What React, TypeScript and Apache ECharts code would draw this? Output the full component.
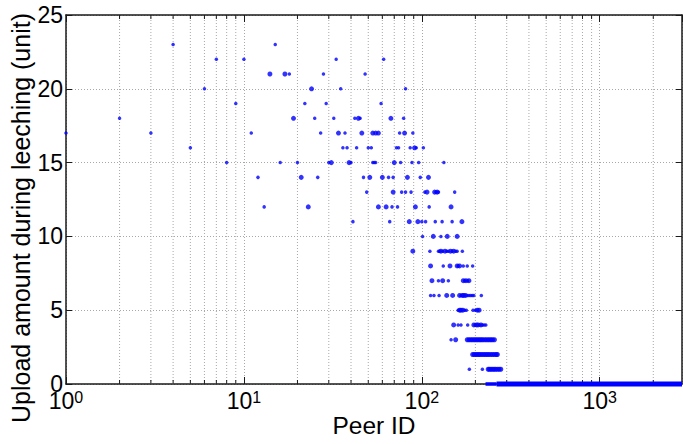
import React, { useEffect, useRef } from "react";
import * as echarts from "echarts";

// ---- data ----
const xMin = 1;
const xMax = 2900;
const yMin = 0;
const yMax = 25;
const yInterval = 5;
const minorXTicks = [2, 3, 4, 5, 6, 7, 8, 9, 20, 30, 40, 50, 60, 70, 80, 90, 200, 300, 400, 500, 600, 700, 800, 900, 2000];
const yTitle = "Upload amount during leeching (unit)";
const xTitle = "Peer ID";

// [peer id, upload amount] – small markers
const smallDots: [number, number][] = [
  [4, 23], [15, 23],
  [7, 22], [10, 22], [33, 22], [61, 22],
  [18, 21], [28, 21], [48, 21],
  [6, 20], [35, 20], [81, 20],
  [9, 19], [22, 19], [29, 19], [59, 19],
  [2, 18], [25, 18], [32, 18], [42, 18], [45, 18], [79, 18],
  [1, 17], [3, 17], [11, 17], [27, 17], [37, 17], [75, 17], [89, 17],
  [5, 16], [36, 16], [38, 16], [43, 16], [50, 16], [52, 16], [72, 16], [74, 16], [86, 16], [93, 16], [102, 16],
  [8, 15], [16, 15], [20, 15], [30, 15], [40, 15], [53, 15], [54, 15], [55, 15], [76, 15], [88, 15], [96, 15], [133, 15],
  [12, 14], [26, 14], [47, 14], [65, 14], [69, 14], [98, 14],
  [49, 13], [77, 13], [81, 13], [87, 13], [104, 13], [120, 13], [124, 13], [153, 13],
  [13, 12], [68, 12], [73, 12], [110, 12],
  [41, 11], [66, 11], [100, 11], [105, 11], [119, 11], [130, 11], [148, 11],
  [101, 10], [128, 10],
  [111, 9], [124, 9], [126, 9], [131, 9], [138, 9], [141, 9], [148, 9], [155, 9], [158, 9], [169, 9],
  [132, 8], [160, 8], [171, 8], [180, 8], [193, 8],
  [124, 7], [141, 7], [174, 7], [181, 7],
  [112, 6], [117, 6], [125, 6], [166, 6], [180, 6], [184, 6], [188, 6], [192, 6], [196, 6], [216, 6],
  [160, 5], [174, 5], [178, 5], [194, 5], [200, 5],
  [160, 4], [166, 4], [181, 4], [199, 4], [211, 4], [219, 4], [224, 4], [229, 4],
  [146, 3],
  [185, 1], [219, 1],
];

// [peer id, upload amount] – large markers
const bigDots: [number, number][] = [
  [14, 21], [17, 21],
  [24, 20],
  [19, 18], [44, 18], [67, 18],
  [34, 17], [46, 17], [53, 17], [55, 17], [57, 17], [80, 17],
  [91, 16],
  [31, 15], [39, 15], [70, 15],
  [21, 14], [51, 14], [60, 14], [83, 14], [109, 14],
  [69, 13], [107, 13], [118, 13], [122, 13],
  [23, 12], [57, 12], [63, 12], [92, 12], [146, 12],
  [85, 11], [95, 11], [168, 11],
  [116, 10], [139, 10], [158, 10],
  [89, 9], [128, 9], [135, 9], [145, 9], [151, 9],
  [112, 8], [144, 8], [158, 8], [163, 8],
  [114, 7], [131, 7], [171, 7], [177, 7], [184, 7],
  [138, 6], [149, 6], [163, 6], [169, 6], [172, 6], [176, 6],
  [163, 5], [166, 5], [170, 5], [205, 5], [210, 5],
  [151, 4], [196, 4], [203, 4], [207, 4], [215, 4],
  [155, 3], [180, 3], [184, 3], [188, 3], [192, 3], [196, 3], [200, 3], [204, 3], [208, 3], [212, 3],
  [216, 3], [220, 3], [225, 3], [230, 3], [235, 3], [240, 3], [245, 3], [250, 3], [256, 3],
  [193, 2], [197, 2], [201, 2], [205, 2], [209, 2], [213, 2], [218, 2], [223, 2], [228, 2], [233, 2],
  [238, 2], [244, 2], [250, 2], [256, 2], [262, 2], [266, 2],
  [236, 1], [240, 1], [245, 1], [250, 1], [255, 1], [260, 1], [266, 1], [272, 1], [278, 1],
];

// peers 228 .. 2900 all uploaded 0 (dense band; thinner at its start)
const zeroBandThin: [number, number][] = [[228, 0], [263, 0]];
const zeroBand: [number, number][] = [[263, 0], [2900, 0]];

const FONT = "'Liberation Sans', Arial, Helvetica, sans-serif";
const BLUE = "#0000ff";
const GRID = "#a8a8a8";
const AXIS = "#1a1a1a";

export default function App() {
  const ref = useRef<HTMLDivElement>(null);
  useEffect(() => {
    if (!ref.current) return;
    const chart = echarts.init(ref.current, undefined, { renderer: "svg" });
    const isPow10 = (v: number) => {
      const l = Math.log10(v);
      return Math.abs(l - Math.round(l)) < 1e-6;
    };
    const option: any = {
      animation: false,
      textStyle: { fontFamily: FONT },
      grid: { left: 66, right: 1, top: 15, bottom: 60, containLabel: false, outerBoundsMode: "none" },
      graphic: [
        {
          type: "text",
          x: 21,
          y: 218,
          rotation: Math.PI / 2,
          silent: true,
          style: {
            text: yTitle,
            fontSize: 25,
            fontFamily: FONT,
            fill: "#000",
            align: "center",
            verticalAlign: "middle",
          },
        },
      ],
      xAxis: [
        {
          type: "log",
          logBase: 10,
          min: xMin,
          max: xMax,
          position: "bottom",
          name: xTitle,
          nameLocation: "middle",
          nameGap: 29,
          nameMoveOverlap: false,
          nameTextStyle: { fontSize: 24.5, color: "#000", fontFamily: FONT },
          axisLine: { show: true, onZero: false, lineStyle: { color: AXIS, width: 1.5 } },
          axisTick: { show: true, inside: true, length: 7, lineStyle: { color: AXIS } },
          axisLabel: {
            margin: 5,
            showMaxLabel: false,
            formatter: (v: number) => (isPow10(v) ? `{b|10}{s|${Math.round(Math.log10(v))}}` : ""),
            rich: {
              b: { fontSize: 23, lineHeight: 23, color: "#000", fontFamily: FONT, verticalAlign: "bottom" },
              s: { fontSize: 16, lineHeight: 16, color: "#000", fontFamily: FONT, verticalAlign: "top", padding: [0, 0, 14, 0] },
            },
          },
          splitLine: { show: true, lineStyle: { color: GRID, type: [1, 2], width: 1 } },
        },
        {
          type: "log",
          logBase: 10,
          min: xMin,
          max: xMax,
          position: "top",
          axisLine: { show: true, onZero: false, lineStyle: { color: AXIS, width: 1.5 } },
          axisTick: { show: true, inside: true, length: 7, lineStyle: { color: AXIS } },
          axisLabel: { show: false },
          splitLine: { show: false },
        },
      ],
      yAxis: [
        {
          type: "value",
          min: yMin,
          max: yMax,
          interval: yInterval,
          position: "left",
          axisLine: { show: true, onZero: false, lineStyle: { color: AXIS, width: 1.5 } },
          axisTick: { show: true, inside: true, length: 6, lineStyle: { color: AXIS } },
          axisLabel: { fontSize: 23, color: "#000", margin: 3, fontFamily: FONT },
          splitLine: { show: true, lineStyle: { color: GRID, type: [1, 2], width: 1 } },
        },
        {
          type: "value",
          min: yMin,
          max: yMax,
          interval: yInterval,
          position: "right",
          axisLine: { show: true, onZero: false, lineStyle: { color: AXIS, width: 1.5 } },
          axisTick: { show: true, inside: true, length: 6, lineStyle: { color: AXIS } },
          axisLabel: { show: false },
          splitLine: { show: false },
        },
      ],
      series: [
        {
          type: "custom",
          xAxisIndex: 0,
          yAxisIndex: 0,
          silent: true,
          z: 1,
          clip: false,
          data: minorXTicks.map((v) => [v, yMin]),
          renderItem: (_p: any, api: any) => {
            const v = api.value(0);
            const top = api.coord([v, yMax]);
            const bot = api.coord([v, yMin]);
            return {
              type: "group",
              children: [
                {
                  type: "line",
                  shape: { x1: bot[0], y1: bot[1], x2: top[0], y2: top[1] },
                  style: { stroke: GRID, lineWidth: 1, lineDash: [1, 2] },
                },
                {
                  type: "line",
                  shape: { x1: bot[0], y1: bot[1], x2: bot[0], y2: bot[1] - 4 },
                  style: { stroke: AXIS, lineWidth: 1 },
                },
                {
                  type: "line",
                  shape: { x1: top[0], y1: top[1], x2: top[0], y2: top[1] + 4 },
                  style: { stroke: AXIS, lineWidth: 1 },
                },
              ],
            };
          },
        },
        {
          type: "line",
          data: zeroBandThin,
          symbol: "none",
          clip: false,
          z: 3,
          lineStyle: { color: BLUE, width: 3.5 },
        },
        {
          type: "line",
          data: zeroBand,
          symbol: "none",
          clip: false,
          z: 3,
          lineStyle: { color: BLUE, width: 5 },
        },
        {
          type: "scatter",
          data: smallDots,
          symbol: "circle",
          symbolSize: 3.5,
          clip: false,
          z: 4,
          itemStyle: { color: BLUE },
        },
        {
          type: "scatter",
          data: bigDots,
          symbol: "circle",
          symbolSize: 5,
          clip: false,
          z: 4,
          itemStyle: { color: BLUE },
        },
      ],
    };
    chart.setOption(option);
    return () => chart.dispose();
  }, []);
  return (
    <div
      ref={ref}
      style={{ position: "fixed", left: 0, top: 0, width: 683, height: 444, background: "#fff" }}
    />
  );
}
